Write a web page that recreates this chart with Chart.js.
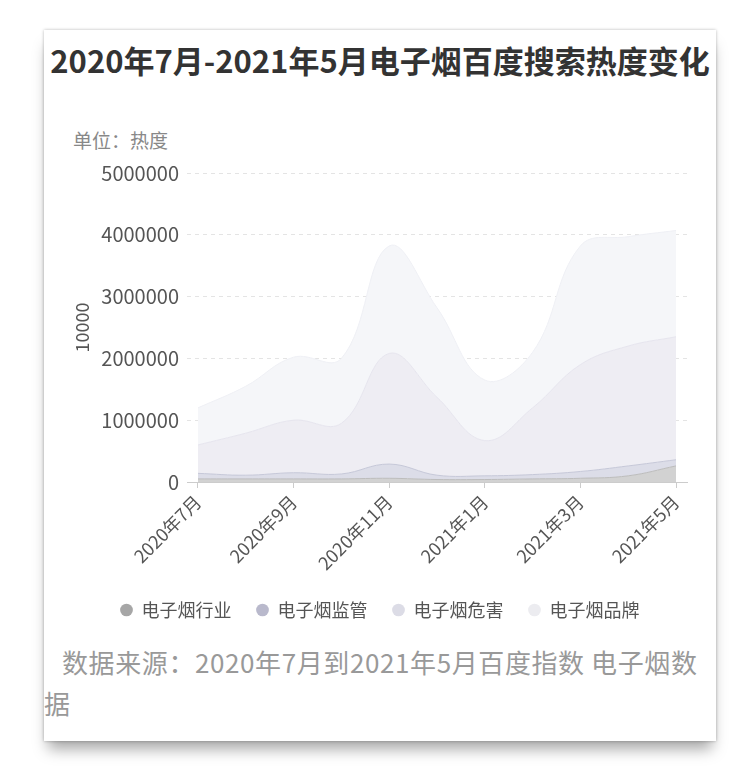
<!DOCTYPE html>
<html>
<head>
<meta charset="utf-8">
<script src="https://cdn.jsdelivr.net/npm/chart.js@4"></script>
<style>
  html, body { margin: 0; padding: 0; background: #fff; }
  body { width: 750px; height: 780px; position: relative; overflow: hidden;
         font-family: "Noto Sans CJK SC", "Noto Sans", sans-serif; }
  .card { position: absolute; left: 44px; top: 30px; width: 672px; height: 711px; background: #fff;
          box-shadow: 0 0 3px rgba(0,0,0,0.28), 0 12px 14px -4px rgba(0,0,0,0.35); }
  .title { position: absolute; left: 44px; top: 40px; width: 672px; text-align: center;
           font-size: 31px; line-height: 40px; font-weight: bold; color: #333; white-space: nowrap; }
  .unit { position: absolute; left: 73px; top: 129px; font-size: 19px; line-height: 22px; color: #888; }
  .wrap { position: absolute; left: 73px; top: 150px; width: 643px; height: 479px; }
  .source { position: absolute; left: 44px; top: 641px; width: 672px; font-size: 26px;
            line-height: 41px; color: #999; text-indent: 18px; letter-spacing: 0.6px; }
</style>
</head>
<body>
<div class="card"></div>
<div class="title">2020年7月-2021年5月电子烟百度搜索热度变化</div>
<div class="unit">单位：热度</div>
<div class="wrap"><canvas id="chart"></canvas></div>
<div class="source">数据来源：2020年7月到2021年5月百度指数 电子烟数<br>据</div>
<script>
// months, one point each
const months = ['2020年7月', '2020年8月', '2020年9月', '2020年10月', '2020年11月', '2020年12月',
                '2021年1月', '2021年2月', '2021年3月', '2021年4月', '2021年5月'];
const seriesNames = ['电子烟行业', '电子烟监管', '电子烟危害', '电子烟品牌'];

// values (stacked)
const industry = [50000, 50000, 50000, 50000, 60000, 40000, 40000, 50000, 60000, 100000, 260000];
const regulation = [90000, 60000, 100000, 80000, 230000, 70000, 60000, 70000, 110000, 160000, 100000];
const harm = [460000, 680000, 850000, 820000, 1790000, 1260000, 570000, 1080000, 1730000, 1940000, 1990000];
const brand = [600000, 760000, 1020000, 1050000, 1740000, 1450000, 980000, 900000, 1920000, 1770000, 1720000];

const yTicks = [0, 1000000, 2000000, 3000000, 4000000, 5000000];
const xTickIdx = [0, 2, 4, 6, 8, 10]; // labelled months

const fillColors = ['#d2d2d2', '#dcdde8', '#eeedf3', '#f5f6f9'];
const lineColors = ['#bcbcbc', '#c6c8d8', '#e6e5ee', '#eff0f5'];
const dotColors = ['#a6a6a6', '#b9b9cc', '#dcdce6', '#ececf0'];

const toPoints = arr => arr.map((v, i) => ({ x: i, y: v }));
const allSeries = [industry, regulation, harm, brand];

const ctx = document.getElementById('chart').getContext('2d');
Chart.defaults.font.family = '"Noto Sans CJK SC", "Noto Sans", sans-serif';

new Chart(ctx, {
    type: 'line',
    data: {
        datasets: allSeries.map((arr, i) => ({
            label: seriesNames[i],
            data: toPoints(arr),
            backgroundColor: fillColors[i],
            borderColor: lineColors[i],
            borderWidth: 1,
            fill: i === 0 ? 'origin' : '-1',
            tension: 0.4,
            pointRadius: 0
        }))
    },
    options: {
        responsive: true,
        maintainAspectRatio: false,
        animation: false,
        layout: { padding: { top: 23, right: 29, bottom: 0, left: 0 } },
        scales: {
            x: {
                type: 'linear',
                min: -0.23,
                max: 10.23,
                bounds: 'data',
                afterBuildTicks: scale => { scale.ticks = xTickIdx.map(v => ({ value: v })); },
                grid: { drawOnChartArea: false, drawTicks: true, tickLength: 6, color: '#cccccc' },
                border: { display: true, color: '#cccccc' },
                ticks: {
                    autoSkip: false,
                    maxRotation: 45,
                    minRotation: 45,
                    color: '#555',
                    font: { size: 18 },
                    callback: v => months[v]
                },
                afterFit: scale => { scale.height = 94; }
            },
            y: {
                stacked: true,
                min: 0,
                max: 5000000,
                afterBuildTicks: scale => { scale.ticks = yTicks.map(v => ({ value: v })); },
                grid: { color: '#e4e4e4', drawTicks: false },
                border: { display: false, dash: [4, 4] },
                ticks: { color: '#555', font: { size: 20 }, padding: 8, callback: v => String(v) },
                title: { display: true, text: '10000', color: '#555', font: { size: 18, lineHeight: 1 }, padding: 0 },
                afterFit: scale => { scale.width = 114; }
            }
        },
        plugins: {
            legend: {
                position: 'bottom',
                labels: {
                    usePointStyle: true,
                    pointStyle: 'circle',
                    boxWidth: 12,
                    boxHeight: 9,
                    padding: 25,
                    color: '#555',
                    font: { size: 18 },
                    generateLabels: chart => Chart.defaults.plugins.legend.labels.generateLabels(chart).map((l, i) => {
                        l.fillStyle = dotColors[i];
                        l.strokeStyle = dotColors[i];
                        l.lineWidth = 0;
                        return l;
                    })
                }
            },
            tooltip: { enabled: false }
        }
    }
});
</script>
</body>
</html>
